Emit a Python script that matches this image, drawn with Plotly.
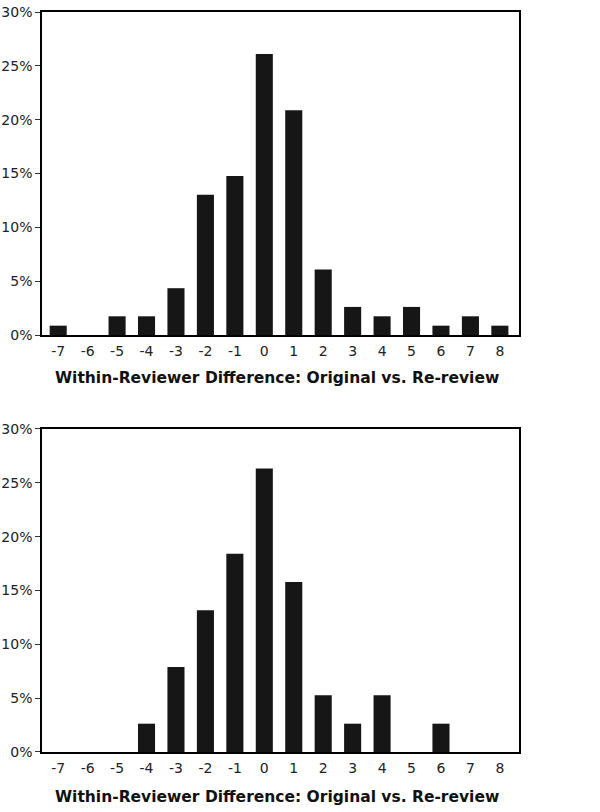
import plotly.graph_objects as go
from plotly.subplots import make_subplots

# within-reviewer difference categories
diffs = [-7, -6, -5, -4, -3, -2, -1, 0, 1, 2, 3, 4, 5, 6, 7, 8]

# share of reviews (%) for each difference
top_pct = [0.87, 0, 1.74, 1.74, 4.35, 13.04, 14.78, 26.09, 20.87, 6.09,
           2.61, 1.74, 2.61, 0.87, 1.74, 0.87]
bottom_pct = [0, 0, 0, 2.63, 7.89, 13.16, 18.42, 26.32, 15.79, 5.26,
              2.63, 5.26, 0, 2.63, 0, 0]

y_ticks = [0, 5, 10, 15, 20, 25, 30]
y_tick_text = ["0%", "5%", "10%", "15%", "20%", "25%", "30%"]
x_title = "Within-Reviewer Difference: Original vs. Re-review"

fig = make_subplots(rows=2, cols=1)

for row, vals in [(1, top_pct), (2, bottom_pct)]:
    fig.add_trace(go.Bar(
        x=diffs, y=vals,
        marker=dict(color="#161616", line=dict(width=0)),
        showlegend=False,
    ), row=row, col=1)

axis_font = dict(family="DejaVu Sans, sans-serif", size=14, color="#222")

fig.update_xaxes(
    range=[-7.55, 8.65],
    tickmode="array", tickvals=diffs, ticktext=[str(d) for d in diffs],
    showline=True, linecolor="black", linewidth=1.5, mirror=True,
    showgrid=False, zeroline=False,
    ticks="outside", ticklen=2, tickcolor="rgba(0,0,0,0)",
    tickfont=axis_font, automargin=False,
    domain=[0.07, 0.865],
)
fig.update_yaxes(
    range=[0, 30],
    tickmode="array", tickvals=y_ticks, ticktext=y_tick_text,
    showline=True, linecolor="black", linewidth=1.5, mirror=True,
    showgrid=False, zeroline=False,
    ticks="outside", ticklen=5, tickcolor="#333",
    tickfont=axis_font, automargin=False,
)
fig.update_yaxes(domain=[0.5874, 0.9852], row=1, col=1)
fig.update_yaxes(domain=[0.0739, 0.4717], row=2, col=1)

# x-axis titles under each panel
for ypos in [0.5345, 0.0185]:
    fig.add_annotation(
        text="<b>" + x_title + "</b>",
        xref="paper", yref="paper", x=0.4617, y=ypos,
        xanchor="center", yanchor="middle", showarrow=False,
        font=dict(family="DejaVu Sans, sans-serif", size=15.5, color="#111"),
    )

fig.update_layout(
    width=600, height=812,
    margin=dict(l=0, r=0, t=0, b=0),
    bargap=0.42,
    plot_bgcolor="white", paper_bgcolor="white",
)

# drop the browser's default body margin so the figure fills the window
fig.write_html("out.html", config={"displayModeBar": False},
               post_script="document.body.style.margin = '0';")
